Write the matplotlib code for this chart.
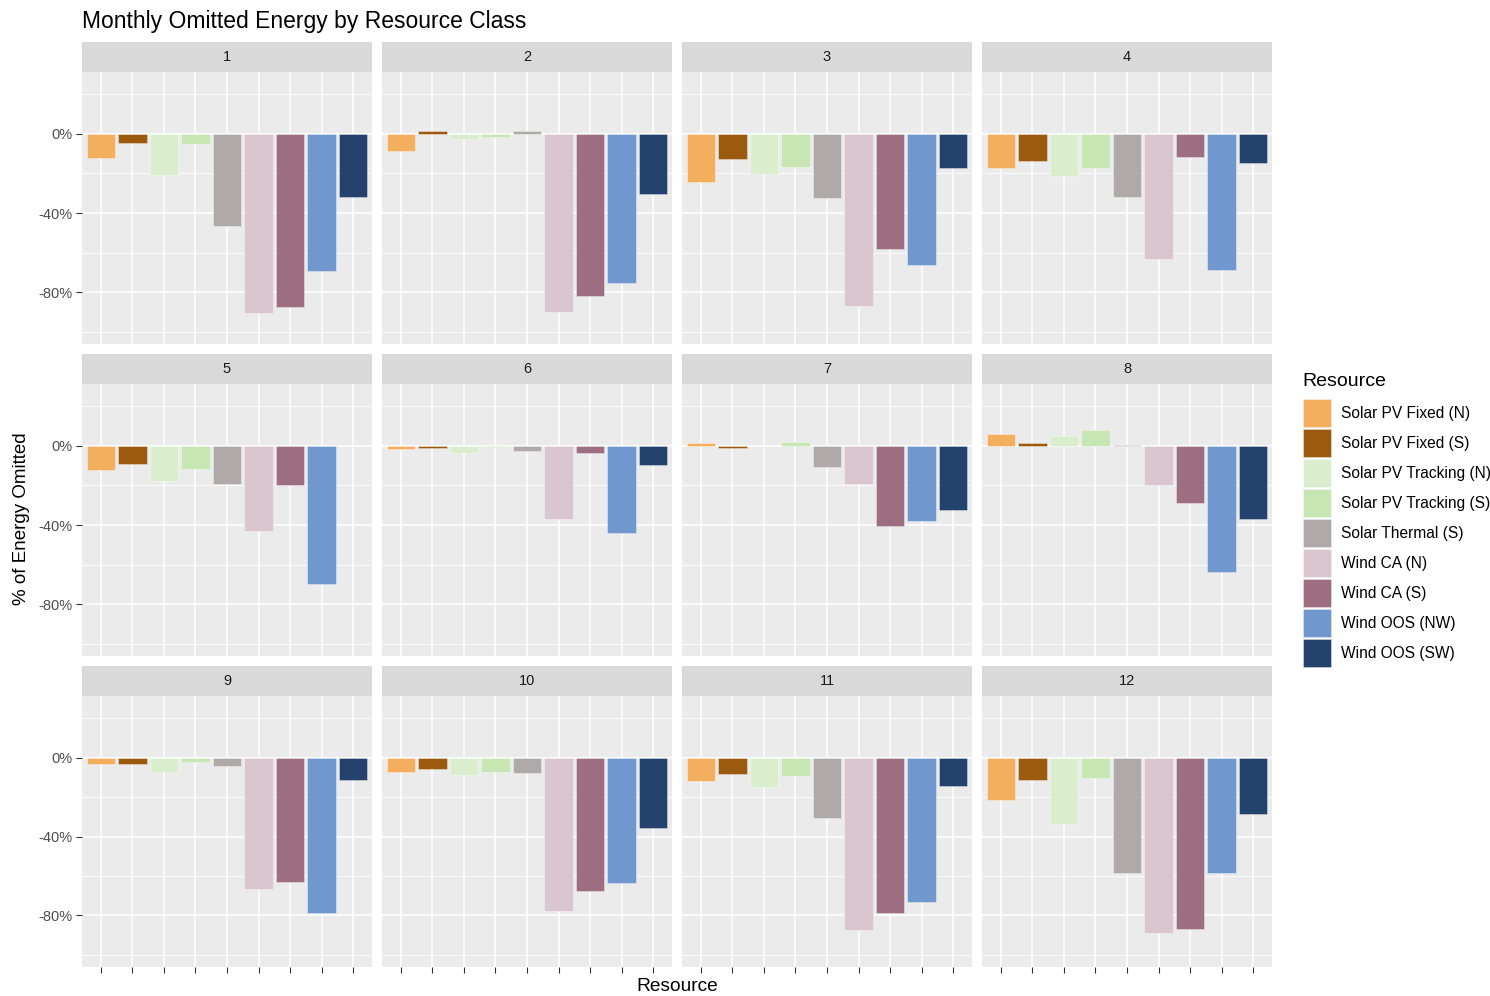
import matplotlib
matplotlib.use("Agg")
import matplotlib.pyplot as plt
from matplotlib.patches import Rectangle

plt.rcParams['font.family'] = ['Liberation Sans', 'DejaVu Sans']

# ---------------- data ----------------
resources = ["Solar PV Fixed (N)", "Solar PV Fixed (S)", "Solar PV Tracking (N)",
             "Solar PV Tracking (S)", "Solar Thermal (S)", "Wind CA (N)",
             "Wind CA (S)", "Wind OOS (NW)", "Wind OOS (SW)"]
colors = ["#F4AF5E", "#9C5A0E", "#DAEDCD", "#C8E6B4", "#AFAAA9",
          "#D9C6CF", "#9D6E81", "#7098CF", "#23436E"]
months = [1, 2, 3, 4, 5, 6, 7, 8, 9, 10, 11, 12]

# % of energy omitted, per month, in resource order
m01 = [-12.4, -4.5, -20.8, -5.2, -46.4, -90.4, -87.2, -69.2, -32.1]
m02 = [-8.6, 1.3, -2.7, -1.5, 1.3, -89.7, -81.7, -75.5, -30.3]
m03 = [-24.2, -12.8, -20.5, -16.8, -32.3, -87.1, -58.3, -66.2, -17.1]
m04 = [-17.3, -13.9, -21.3, -17.3, -32.1, -63.4, -11.9, -68.7, -14.5]
m05 = [-12.3, -9.1, -17.6, -11.8, -19.3, -43.0, -19.8, -69.7, 0.0]
m06 = [-1.8, -1.3, -3.7, -0.7, -2.4, -37.1, -3.7, -44.2, -9.7]
m07 = [1.5, -1.3, 0.0, 1.8, -10.8, -19.5, -40.5, -38.0, -32.3]
m08 = [6.2, 1.5, 5.2, 8.2, 0.4, -19.7, -28.7, -63.9, -37.0]
m09 = [-3.5, -3.0, -7.2, -2.2, -4.5, -66.5, -63.1, -78.8, -11.6]
m10 = [-7.1, -5.7, -8.9, -7.4, -7.9, -77.6, -67.7, -63.5, -35.7]
m11 = [-12.0, -8.4, -14.8, -9.4, -30.8, -87.5, -78.6, -73.1, -14.6]
m12 = [-21.7, -11.3, -33.7, -10.4, -58.6, -88.9, -86.7, -58.4, -28.8]
monthly_values = [m01, m02, m03, m04, m05, m06, m07, m08, m09, m10, m11, m12]

y_major = [-80, -40, 0]
y_major_labels = ["-80%", "-40%", "0%"]
y_minor = [-100, -60, -20, 20]

title = "Monthly Omitted Energy by Resource Class"
xlabel = "Resource"
ylabel = "% of Energy Omitted"
legend_title = "Resource"

# ---------------- layout ----------------
W, H = 1490, 996
fig = plt.figure(figsize=(W / 100, H / 100), dpi=100)
fig.patch.set_facecolor("white")


def rect(x0, y0, x1, y1):
    return [x0 / W, 1 - y1 / H, (x1 - x0) / W, (y1 - y0) / H]


col_x = [82, 382, 682, 982]
panel_w = 290
row_y = [(72, 344), (384, 656), (696, 967)]
strip_h = 30
xpos = list(range(1, len(resources) + 1))

for i, m in enumerate(months):
    r, c = divmod(i, 4)
    x0 = col_x[c]
    x1 = x0 + panel_w
    y0, y1 = row_y[r]
    ax = fig.add_axes(rect(x0, y0, x1, y1))
    ax.set_facecolor("#EBEBEB")
    ax.set_xlim(0.4, len(resources) + 0.6)
    ax.set_ylim(-106.1, 31.2)
    ax.set_axisbelow(True)
    ax.set_xticks(xpos)
    ax.set_yticks(y_major)
    ax.set_yticks(y_minor, minor=True)
    ax.grid(which="major", color="white", linewidth=1.1)
    ax.grid(which="minor", axis="y", color="white", linewidth=0.55)
    for s in ax.spines.values():
        s.set_visible(False)
    ax.bar(xpos, monthly_values[i], width=0.9, color=colors,
           edgecolor=(1, 1, 1, 0.35), linewidth=0.7)

    ax.tick_params(which="minor", length=0)
    if c == 0:
        ax.set_yticklabels(y_major_labels)
        ax.tick_params(axis="y", which="major", length=4, width=0.8,
                       color="#333333", labelcolor="#4D4D4D",
                       labelsize=10.5, pad=2.5)
    else:
        ax.tick_params(axis="y", which="major", length=0, labelleft=False)
    if r == 2:
        ax.tick_params(axis="x", which="major", length=4, width=0.8,
                       color="#333333", labelbottom=False)
    else:
        ax.tick_params(axis="x", which="major", length=0, labelbottom=False)

    sax = fig.add_axes(rect(x0, y0 - strip_h, x1, y0))
    sax.set_facecolor("#D9D9D9")
    sax.set_xticks([])
    sax.set_yticks([])
    for s in sax.spines.values():
        s.set_visible(False)
    sax.text(0.5, 0.5, str(m), ha="center", va="center", fontsize=10.5,
             color="#1A1A1A", transform=sax.transAxes)

# titles
fig.text(82 / W, 1 - 28 / H, title, fontsize=16.5, color="black",
         ha="left", va="baseline")
fig.text(677 / W, 1 - 991 / H, xlabel, fontsize=13.8, color="black",
         ha="center", va="baseline")
fig.text(22 / W, 1 - 519 / H, ylabel, fontsize=13.5, color="black",
         ha="center", va="center", rotation=90)

# legend
lax = fig.add_axes([0, 0, 1, 1], facecolor="none")
lax.set_xlim(0, W)
lax.set_ylim(H, 0)
lax.axis("off")
lax.text(1302, 386, legend_title, fontsize=14, color="black",
         ha="left", va="baseline")
for k, (name, col) in enumerate(zip(resources, colors)):
    yc = 413 + 30 * k
    lax.add_patch(Rectangle((1303, yc - 14), 28, 28, facecolor=col,
                            edgecolor=(1, 1, 1, 0.35), linewidth=0.7))
    lax.text(1341, yc, name, fontsize=11.2, color="black",
             ha="left", va="center")

fig.savefig("out.png", dpi=100, facecolor="white")
